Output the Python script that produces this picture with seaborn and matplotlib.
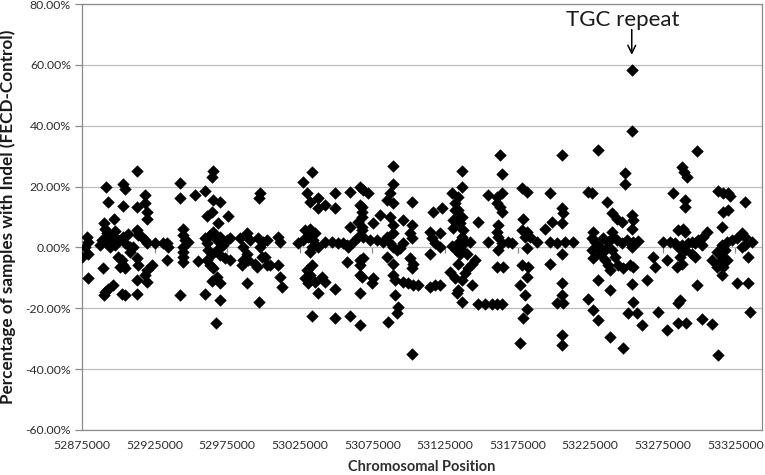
import numpy as np
import pandas as pd
import matplotlib
matplotlib.use("Agg")
import matplotlib.pyplot as plt
import seaborn as sns
from matplotlib.ticker import FuncFormatter

# ---------------- data ----------------
positions = [
    # 52875000 - 52935000
    52912700, 52891300, 52903400, 52904600, 52918400, 52893100, 52903000, 52912700, 52918400, 52919600,
    52919600, 52897200, 52890200, 52890800, 52892000, 52893100, 52895500, 52878200, 52878900, 52877100,
    52875200, 52879300, 52878900, 52888600, 52890800, 52893100, 52895500, 52897700, 52900000, 52903400,
    52904600, 52912700, 52913800, 52916100, 52918400, 52919600, 52910100, 52908100, 52925300, 52930800,
    52933300, 52934400, 52933300, 52899800, 52902300, 52903400, 52904600, 52901200, 52912700, 52913800,
    52889700, 52923000, 52919600, 52918400, 52919600, 52912700, 52896600, 52893100, 52890800, 52890400,
    52902300, 52904600, 52912700, 52894300, 52906700, 52908100, 52897700, 52887400,
    # 52940000 - 53003000
    52965400, 52964300, 52942500, 52942500, 52952800, 52959700, 52997600, 52997100, 52965400, 52970000,
    52964300, 52960900, 52975800, 52968900, 52944800, 52944800, 52945900, 52948000, 52944800, 52944800,
    52944800, 52944800, 52959700, 52960900, 52963200, 52965400, 52967800, 52970000, 52972300, 52974700,
    52976900, 52962000, 52964300, 52967800, 52970000, 52973500, 52976900, 52960900, 52963200, 52965400,
    52983800, 52988400, 52990700, 52986100, 52988400, 52986100, 52985000, 52989500, 52996400, 52999900,
    52997600, 52998800, 52995300, 52994100, 53002200, 52955100, 52964300, 52970000, 52967800, 52988800,
    52942500, 52959700, 52970000, 52997100, 52967300,
    # 53001000 - 53067000
    53033200, 53027400, 53029800, 53032000, 53037700, 53037700, 53042400, 53049200, 53049200, 53059600,
    53066500, 53066500, 53067600, 53065300, 53059600, 53067600, 53065300, 53061800, 53058400, 53028600,
    53032000, 53035500, 53030900, 53034300, 53027400, 53024000, 53033200, 53037700, 53032000, 53042400,
    53047000, 53051500, 53055000, 53057300, 53002200, 53010200, 53011400, 53001000, 53004500, 53010200,
    53011400, 53012500, 53033200, 53028600, 53030900, 53035500, 53040100, 53042400, 53037700, 53049200,
    53057300, 53066500, 53066500, 53066500, 53033200, 53049200, 53059600, 53066500, 53029800, 53032000,
    # 53066000 - 53135000
    53089400, 53089400, 53087100, 53084800, 53089400, 53068700, 53072200, 53102100, 53067600, 53067600,
    53067600, 53068700, 53080200, 53075600, 53087100, 53089400, 53096300, 53102100, 53100900, 53102100,
    53116900, 53122700, 53114700, 53121600, 53115800, 53118100, 53121600, 53114700, 53073300, 53078000,
    53082500, 53087100, 53089400, 53091700, 53094000, 53096300, 53084800, 53089400, 53068700, 53066500,
    53067600, 53075600, 53074500, 53084800, 53089400, 53100900, 53102100, 53103200, 53089400, 53090600,
    53096300, 53099700, 53103200, 53106600, 53090600, 53114700, 53118100, 53121600, 53128400, 53131900,
    53133100, 53134200, 53135300, 53130700, 53131900, 53129600, 53092800, 53091700, 53085900, 53102100,
    # 53130000 - 53199000
    53162900, 53136500, 53164000, 53136500, 53134200, 53154800, 53160600, 53164000, 53177800, 53181300,
    53160600, 53162900, 53164000, 53197300, 53147500, 53178900, 53177800, 53181300, 53183500, 53180100,
    53161700, 53160600, 53161700, 53164000, 53161700, 53154800, 53168600, 53170900, 53188200, 53193900,
    53198500, 53197300, 53181300, 53177800, 53182400, 53181300, 53160600, 53165100, 53176700, 53180100,
    53181300, 53178900, 53176700, 53197300, 53147900, 53152500, 53157200, 53160600, 53164000, 53143400,
    53131900, 53134200, 53136500, 53135300, 53137600, 53136500, 53134200, 53138800, 53142200, 53136500,
    53139900, 53145700, 53143400, 53141000, 53138800, 53136500, 53134200, 53136500, 53130500, 53132600,
    53129800, 53134600,
    # 53201000 - 53264000
    53205400, 53230600, 53249000, 53249000, 53223700, 53226000, 53236400, 53205400, 53206500, 53239800,
    53243200, 53246700, 53253600, 53254700, 53253600, 53239800, 53240900, 53205400, 53227100, 53226000,
    53228300, 53229500, 53226000, 53227100, 53234000, 53237500, 53243200, 53246700, 53250100, 53254700,
    53258100, 53253600, 53231700, 53235200, 53237500, 53238600, 53244400, 53247800, 53252400, 53254700,
    53201900, 53207600, 53213400, 53205400, 53205400, 53205400, 53201900, 53206500, 53230600, 53238600,
    53223700, 53227100, 53230600, 53253600, 53254700, 53251200, 53257000, 53260500, 53263900, 53205400,
    53205400, 53238600, 53247800, 53253600, 53253600, 53231700, 53235200, 53239800, 53242100,
    # 53268000 - 53337000
    53298300, 53288000, 53289800, 53291500, 53282200, 53290300, 53290300, 53313200, 53316700, 53320100,
    53321300, 53316700, 53320100, 53331600, 53315600, 53285700, 53289100, 53290300, 53305200, 53302900,
    53299400, 53301800, 53297200, 53294900, 53275300, 53280000, 53283400, 53285700, 53288000, 53292600,
    53290300, 53294900, 53297200, 53315600, 53319000, 53322400, 53325900, 53329300, 53331600, 53336200,
    53331600, 53329300, 53315600, 53319000, 53313200, 53312100, 53316700, 53315600, 53308700, 53333900,
    53268500, 53269600, 53277700, 53284600, 53288000, 53298300, 53325900, 53333900, 53285700, 53286800,
    53271900, 53277700, 53285700, 53290800, 53301800, 53308700, 53335100, 53313200, 53286800, 53317800,
    53312100,
]

indel_pct = [
    25.2, 19.7, 20.8, 19.1, 17.2, 15.0, 13.6, 13.2, 14.5, 11.7,
    9.5, 9.3, 8.1, 6.2, 4.6, 3.5, 3.0, 3.3, 1.9, 0.2,
    -3.1, -2.0, -9.9, 2.4, 2.4, 1.9, 1.3, 0.8, 2.4, 3.3,
    1.5, 5.7, 4.1, 3.3, 2.6, 1.3, 0.2, 0.2, 1.3, 1.3,
    1.5, 0.0, -4.2, -3.1, -4.2, -5.8, -6.9, -6.4, -3.6, -5.8,
    -6.6, -5.8, -7.5, -9.1, -11.3, -10.7, -12.4, -13.5, -14.6, -15.7,
    -15.3, -15.7, -15.3, 0.3, 4.5, -1.5, 5.5, 0.9,
    25.2, 23.2, 21.3, 16.1, 17.2, 18.6, 17.8, 16.1, 15.6, 15.0,
    11.7, 10.3, 10.3, 7.9, 6.2, 4.1, 2.4, 1.9, 0.2, -1.4,
    -3.1, -4.7, 3.0, 1.3, 4.1, 5.2, 2.4, 3.5, 0.8, 2.4,
    3.0, -0.9, -2.0, -0.9, -2.5, -3.6, -4.2, -4.2, -5.8, -6.9,
    3.0, 4.6, 2.4, 0.2, -2.0, -4.2, -5.8, -4.2, 3.0, 1.9,
    0.2, -3.1, -6.4, -5.3, -5.8, -4.4, -11.0, -11.8, -9.6, -11.6,
    -15.7, -15.3, -17.3, -17.9, -24.8,
    24.9, 21.6, 18.0, 15.0, 16.1, 12.8, 13.9, 12.8, 18.0, 18.3,
    20.0, 13.9, 11.7, 8.4, 6.8, 5.7, 3.5, 1.9, 0.2, 5.7,
    6.2, 4.6, 3.5, 2.4, 2.4, 1.3, 0.2, 0.2, -1.4, 1.9,
    1.9, 1.5, 1.5, 0.8, 2.4, 3.5, 1.9, -3.1, -5.8, -5.8,
    -9.6, -12.9, -5.8, -10.2, -11.8, -11.3, -9.6, -11.3, -15.1, -13.5,
    -4.7, -4.2, -9.1, -15.1, -22.5, -23.3, -22.6, -25.5, -7.5, -9.1,
    26.7, 21.0, 17.8, 15.6, 14.5, 18.9, 17.8, 15.0, 13.4, 10.1,
    6.8, 3.5, 10.6, 7.9, 10.1, 7.3, 9.0, 7.3, 4.6, 3.0,
    11.7, 12.8, 5.2, 4.6, 3.0, 1.3, 0.2, -2.0, 2.4, 2.4,
    1.9, 1.3, 0.2, -0.9, -0.3, 1.3, 3.5, 4.6, -3.6, -5.8,
    -9.6, -10.2, -11.8, -3.1, -5.3, -3.6, -6.9, -5.3, -9.1, -10.7,
    -11.3, -11.8, -12.4, -12.4, -15.7, -12.9, -12.4, -12.4, -8.0, -10.2,
    -15.1, -5.3, -2.0, 9.0, 12.3, 17.8, -19.5, -21.7, -24.4, -34.9,
    30.4, 25.2, 24.1, 20.0, 16.7, 17.2, 16.7, 17.8, 19.4, 18.3,
    14.5, 13.4, 11.7, 17.8, 8.4, 9.2, 5.7, 5.2, 3.5, 3.5,
    7.3, 5.2, 3.5, 1.3, -0.9, 1.9, 1.9, 1.3, 1.9, 6.2,
    8.4, 1.9, -0.3, -5.8, -6.4, -9.6, -6.4, -6.4, -12.4, -15.7,
    -20.1, -23.3, -31.3, -5.3, -18.6, -18.6, -18.6, -18.6, -18.6, -12.4,
    14.5, 12.3, 10.1, 7.9, 5.7, 3.5, 1.3, 1.9, 1.9, -0.9,
    -2.0, -4.2, -5.3, -6.9, -8.5, -10.7, -14.0, -17.9, 6.5, -1.0,
    0.5, 9.8,
    30.4, 31.9, 24.5, 21.0, 18.3, 17.8, 15.0, 12.8, 11.2, 11.2,
    9.5, 8.4, 10.6, 9.0, 6.2, 5.2, 3.5, 7.9, 5.2, 3.0,
    1.9, -0.3, -0.9, -3.6, 3.0, 1.9, 2.4, 1.3, 2.4, 1.9,
    2.2, 0.2, -2.0, -4.2, -5.8, -7.5, -5.8, -6.9, -5.8, -6.4,
    1.3, 1.9, 1.9, -2.0, -11.6, -15.7, -18.4, -18.4, -10.7, -14.0,
    -16.8, -20.6, -23.9, -12.1, -17.9, -21.7, -21.7, -25.5, -10.7, -28.8,
    -32.1, -29.4, -32.9, 58.3, 38.2, 0.2, -0.9, -0.9, -3.1,
    31.8, 26.3, 24.7, 23.0, 18.0, 15.6, 13.4, 18.6, 18.0, 18.0,
    17.0, 11.7, 12.3, 15.0, 6.8, 5.7, 6.2, 5.2, 5.2, 3.5,
    2.4, 0.8, 1.3, 1.9, 1.9, 1.9, 1.3, 0.2, 0.8, 1.3,
    -0.9, -2.0, -3.1, 0.8, 1.9, 2.4, 3.0, 4.6, 3.5, 1.9,
    0.8, 0.2, -3.1, -4.2, -5.3, -6.4, -6.4, -9.1, -4.2, -3.1,
    -3.1, -6.4, -4.2, -6.4, -5.3, -12.3, -11.8, -11.8, -18.4, -17.3,
    -21.3, -27.0, -24.8, -24.8, -23.4, -25.0, -21.3, -35.5, -3.1, -0.9,
    -1.5,
]

x_ticks = [52875000, 52925000, 52975000, 53025000, 53075000,
           53125000, 53175000, 53225000, 53275000, 53325000]
y_ticks = [-60, -40, -20, 0, 20, 40, 60, 80]

annotation_text = "TGC repeat"
annotation_position = 53253600
x_label = "Chromosomal Position"
y_label = "Percentage of samples with Indel (FECD-Control)"

df = pd.DataFrame({"position": positions, "pct": indel_pct})

# ---------------- style ----------------
sns.set_style("white")
plt.rcParams["font.family"] = ["Lato", "DejaVu Sans"]

fig = plt.figure(figsize=(7.65, 4.75), dpi=100)
ax = fig.add_axes([82 / 765, 1 - 430 / 475, 680 / 765, 426 / 475])

ax.set_xlim(52875000, 53343300)
ax.set_ylim(-60, 80)

ax.yaxis.grid(True, color="#bdbdbd", linewidth=0.9)
ax.xaxis.grid(False)
ax.set_axisbelow(True)

sns.scatterplot(data=df, x="position", y="pct", marker="D", s=40,
                color="black", linewidth=0, ax=ax, legend=False, zorder=3)

ax.set_xticks(x_ticks)
ax.set_xticklabels([str(v) for v in x_ticks])
ax.set_yticks(y_ticks)
ax.yaxis.set_major_formatter(FuncFormatter(lambda v, p: f"{v:.2f}%"))

ax.tick_params(axis="y", which="major", direction="out", length=5, width=0.9,
               color="#8c8c8c", labelsize=8.8, pad=3, labelcolor="#2e2e2e", left=True)
ax.tick_params(axis="x", which="major", bottom=False, labelsize=8.8, pad=4,
               labelcolor="#2e2e2e")

for side, sp in ax.spines.items():
    sp.set_visible(True)
    sp.set_color("#8c8c8c")
    sp.set_linewidth(0.9)

# horizontal axis crossing at zero: tick marks only
sec = ax.secondary_xaxis(60 / 140)
sec.set_xticks(x_ticks)
sec.tick_params(axis="x", direction="out", length=4, width=0.9, color="#8c8c8c",
                labelbottom=False, labeltop=False)
for sp in sec.spines.values():
    sp.set_visible(False)

ax.set_xlabel(x_label, fontsize=10.5, fontweight="bold", color="#2e2e2e", labelpad=6)
ax.set_ylabel(y_label, fontsize=12.3, fontweight="bold", color="#1a1a1a", labelpad=7)

ax.annotate("", xy=(annotation_position, 63.3), xytext=(annotation_position, 71.6),
            arrowprops=dict(arrowstyle="->", color="black", lw=1.1,
                            shrinkA=0, shrinkB=0, mutation_scale=14), zorder=5)
ax.text(annotation_position - 6500, 71.6, annotation_text, ha="center", va="bottom",
        fontsize=16, color="#1a1a1a", zorder=5)

fig.savefig("out.png", dpi=100)
